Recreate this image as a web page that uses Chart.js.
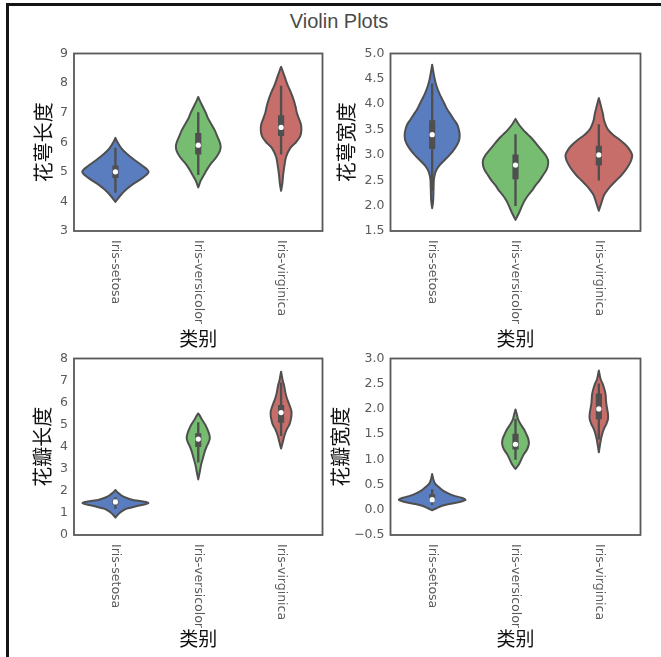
<!DOCTYPE html>
<html>
<head>
<meta charset="utf-8">
<title>Violin Plots</title>
<script src="https://cdn.jsdelivr.net/npm/chart.js@4.4.1/dist/chart.umd.min.js"></script>
<style>
  html, body { margin: 0; padding: 0; background: #fff; }
  #fig { position: relative; width: 661px; height: 657px; overflow: hidden; background: #fff; }
  #frame { position: absolute; left: 6px; top: 3px; width: 700px; height: 700px;
           border-top: 3px solid #141414; border-left: 3px solid #141414; box-sizing: border-box; }
  #suptitle { position: absolute; left: 0; width: 678px; top: 10px; text-align: center;
              font: 20px "Liberation Sans", Arial, sans-serif; color: #4a4a4a; }
  canvas { position: absolute; }
</style>
</head>
<body>
<div id="fig">
  <div id="frame"></div>
  <div id="suptitle">Violin Plots</div>
  <canvas id="sl" width="320" height="310" style="left:14px;top:40px"></canvas>
  <canvas id="sw" width="335" height="310" style="left:326px;top:40px"></canvas>
  <canvas id="pl" width="320" height="312" style="left:14px;top:345px"></canvas>
  <canvas id="pw" width="335" height="312" style="left:326px;top:345px"></canvas>
</div>
<script>
// ---- categories ----
const species = ['Iris-setosa', 'Iris-versicolor', 'Iris-virginica'];

// ---- 花萼长度 (sepal length) ----
const sepalLengthTicks = [3, 4, 5, 6, 7, 8, 9];
const sepalLengthMedian = [5.0, 5.9, 6.5];
const sepalLengthBox = [[4.8, 5.2], [5.6, 6.3], [6.225, 6.9]];
const sepalLengthWhisker = [[4.3, 5.8], [4.9, 7.0], [5.6, 7.9]];
// density outline: [value, half-width in category units]
const sepalLengthSetosa = [[3.98,0],[4.2,0.06],[4.4,0.13],[4.6,0.22],[4.8,0.33],[5.0,0.40],[5.2,0.33],[5.4,0.23],[5.6,0.14],[5.8,0.07],[6.0,0.025],[6.15,0]];
const sepalLengthVersicolor = [[4.47,0],[4.7,0.03],[4.9,0.07],[5.1,0.11],[5.3,0.16],[5.5,0.22],[5.7,0.26],[5.85,0.27],[6.0,0.26],[6.2,0.23],[6.4,0.2],[6.6,0.16],[6.8,0.12],[7.0,0.09],[7.2,0.055],[7.4,0.02],[7.53,0]];
const sepalLengthVirginica = [[4.36,0],[4.6,0.015],[4.9,0.025],[5.2,0.04],[5.5,0.06],[5.8,0.11],[6.0,0.18],[6.2,0.23],[6.4,0.245],[6.6,0.24],[6.8,0.215],[7.0,0.19],[7.2,0.175],[7.4,0.155],[7.6,0.13],[7.8,0.1],[8.0,0.07],[8.2,0.045],[8.4,0.02],[8.55,0]];

// ---- 花萼宽度 (sepal width) ----
const sepalWidthTicks = [1.5, 2.0, 2.5, 3.0, 3.5, 4.0, 4.5, 5.0];
const sepalWidthMedian = [3.4, 2.8, 3.0];
const sepalWidthBox = [[3.125, 3.675], [2.525, 3.0], [2.8, 3.175]];
const sepalWidthWhisker = [[2.3, 4.4], [2.0, 3.4], [2.5, 3.6]];
const sepalWidthSetosa = [[1.95,0],[2.1,0.012],[2.3,0.016],[2.5,0.02],[2.6,0.03],[2.7,0.05],[2.8,0.09],[2.9,0.15],[3.0,0.21],[3.1,0.26],[3.2,0.3],[3.3,0.325],[3.4,0.33],[3.5,0.32],[3.6,0.3],[3.7,0.26],[3.8,0.22],[3.9,0.18],[4.0,0.15],[4.1,0.12],[4.2,0.09],[4.3,0.065],[4.4,0.045],[4.5,0.03],[4.6,0.018],[4.78,0]];
const sepalWidthVersicolor = [[1.72,0],[1.85,0.04],[2.0,0.08],[2.1,0.11],[2.2,0.15],[2.3,0.2],[2.4,0.24],[2.5,0.29],[2.6,0.33],[2.7,0.37],[2.8,0.39],[2.9,0.39],[3.0,0.36],[3.1,0.31],[3.2,0.26],[3.3,0.21],[3.4,0.15],[3.5,0.09],[3.6,0.04],[3.71,0]];
const sepalWidthVirginica = [[1.9,0],[2.05,0.03],[2.2,0.06],[2.3,0.1],[2.4,0.15],[2.5,0.21],[2.6,0.27],[2.7,0.32],[2.8,0.36],[2.9,0.39],[3.0,0.4],[3.1,0.37],[3.2,0.32],[3.3,0.25],[3.4,0.17],[3.5,0.11],[3.6,0.08],[3.7,0.06],[3.8,0.05],[3.9,0.035],[4.0,0.02],[4.12,0]];

// ---- 花瓣长度 (petal length) ----
const petalLengthTicks = [0, 1, 2, 3, 4, 5, 6, 7, 8];
const petalLengthMedian = [1.5, 4.35, 5.55];
const petalLengthBox = [[1.4, 1.575], [4.0, 4.6], [5.1, 5.875]];
const petalLengthWhisker = [[1.2, 1.7], [3.3, 5.1], [4.5, 6.9]];
const petalLengthSetosa = [[0.79,0],[0.9,0.025],[1.0,0.05],[1.1,0.09],[1.2,0.14],[1.3,0.25],[1.4,0.37],[1.45,0.4],[1.5,0.37],[1.55,0.28],[1.6,0.2],[1.7,0.12],[1.8,0.07],[1.9,0.035],[2.04,0]];
const petalLengthVersicolor = [[2.52,0],[2.8,0.015],[3.0,0.025],[3.2,0.035],[3.4,0.05],[3.6,0.065],[3.8,0.08],[4.0,0.1],[4.2,0.125],[4.4,0.14],[4.6,0.13],[4.8,0.11],[5.0,0.085],[5.2,0.05],[5.4,0.02],[5.51,0]];
const petalLengthVirginica = [[3.92,0],[4.2,0.02],[4.5,0.04],[4.8,0.07],[5.0,0.1],[5.2,0.115],[5.4,0.125],[5.6,0.125],[5.8,0.11],[6.0,0.09],[6.2,0.07],[6.4,0.055],[6.6,0.045],[6.8,0.035],[7.0,0.02],[7.2,0.01],[7.4,0]];

// ---- 花瓣宽度 (petal width) ----
const petalWidthTicks = [-0.5, 0.0, 0.5, 1.0, 1.5, 2.0, 2.5, 3.0];
const petalWidthMedian = [0.2, 1.3, 2.0];
const petalWidthBox = [[0.2, 0.3], [1.2, 1.5], [1.8, 2.3]];
const petalWidthWhisker = [[0.1, 0.4], [1.0, 1.8], [1.4, 2.5]];
const petalWidthSetosa = [[-0.01,0],[0.03,0.05],[0.08,0.12],[0.12,0.22],[0.16,0.34],[0.2,0.4],[0.24,0.35],[0.28,0.26],[0.32,0.2],[0.38,0.13],[0.45,0.08],[0.52,0.035],[0.6,0.015],[0.71,0]];
const petalWidthVersicolor = [[0.81,0],[0.9,0.04],[1.0,0.07],[1.1,0.1],[1.2,0.14],[1.3,0.16],[1.4,0.155],[1.5,0.13],[1.6,0.1],[1.7,0.06],[1.8,0.03],[1.9,0.015],[1.99,0]];
const petalWidthVirginica = [[1.14,0],[1.3,0.015],[1.4,0.025],[1.5,0.04],[1.6,0.06],[1.7,0.09],[1.8,0.11],[1.9,0.11],[2.0,0.1],[2.1,0.09],[2.2,0.085],[2.3,0.08],[2.4,0.065],[2.5,0.045],[2.6,0.02],[2.76,0]];

// ---- styling ----
const CJK = '"Noto Sans CJK SC", sans-serif';
const TICK_FONT = '"DejaVu Sans", sans-serif';
const violinFill = ['#597dbe', '#76bd72', '#c76e6a'];
const inkGray = '#4f4f4f';

// Draws a Catmull-Rom curve through pts, starting from the current point pts[0]
function curveThrough(ctx, pts) {
  const n = pts.length;
  for (let i = 0; i < n - 1; i++) {
    const p0 = pts[Math.max(i - 1, 0)], p1 = pts[i], p2 = pts[i + 1], p3 = pts[Math.min(i + 2, n - 1)];
    ctx.bezierCurveTo(
      p1.x + (p2.x - p0.x) / 6, p1.y + (p2.y - p0.y) / 6,
      p2.x - (p3.x - p1.x) / 6, p2.y - (p3.y - p1.y) / 6,
      p2.x, p2.y);
  }
}

// Violin bodies under the datasets, plus the axes box and rotated category labels
function violinPlugin(shapes) {
  return {
    id: 'violins',
    beforeDatasetsDraw(chart) {
      const { ctx, scales: { x, y } } = chart;
      const unit = x.getPixelForValue(1) - x.getPixelForValue(0);
      shapes.forEach((shape, i) => {
        const cx = x.getPixelForValue(i);
        const right = shape.map(([v, w]) => ({ x: cx + w * unit, y: y.getPixelForValue(v) }));
        const left = shape.map(([v, w]) => ({ x: cx - w * unit, y: y.getPixelForValue(v) })).reverse();
        ctx.save();
        ctx.beginPath();
        ctx.moveTo(right[0].x, right[0].y);
        curveThrough(ctx, right);
        curveThrough(ctx, left);
        ctx.closePath();
        ctx.fillStyle = violinFill[i];
        ctx.fill();
        ctx.lineWidth = 2;
        ctx.lineJoin = 'round';
        ctx.strokeStyle = inkGray;
        ctx.stroke();
        ctx.restore();
      });
    },
    afterDraw(chart) {
      const { ctx, chartArea: a, scales: { x } } = chart;
      ctx.save();
      ctx.strokeStyle = '#585858';
      ctx.lineWidth = 1.8;
      ctx.strokeRect(a.left, a.top, a.right - a.left, a.bottom - a.top);
      ctx.font = '12.5px ' + TICK_FONT;
      ctx.fillStyle = '#5a5a5a';
      ctx.textAlign = 'left';
      ctx.textBaseline = 'middle';
      species.forEach((name, i) => {
        ctx.save();
        ctx.translate(x.getPixelForValue(i), a.bottom + 9);
        ctx.rotate(Math.PI / 2);
        ctx.fillText(name, 0, 0);
        ctx.restore();
      });
      ctx.restore();
    }
  };
}

function fmtTick(v, decimals) {
  return v.toFixed(decimals).replace('-', '\u2212');
}

function makePanel(p) {
  const ticks = p.ticks;
  new Chart(document.getElementById(p.id), {
    type: 'bar',
    data: {
      labels: species,
      datasets: [
        { type: 'line', label: '中位数', data: p.median, showLine: false,
          pointRadius: 2.6, pointHoverRadius: 2.6, pointBorderWidth: 0,
          pointBackgroundColor: '#ffffff', borderColor: '#ffffff' },
        { label: '四分位距', data: p.box, grouped: false, barThickness: 5.5,
          backgroundColor: inkGray, borderWidth: 0 },
        { label: '须', data: p.whisker, grouped: false, barThickness: 1.7,
          backgroundColor: inkGray, borderWidth: 0 }
      ]
    },
    options: {
      responsive: false,
      animation: false,
      devicePixelRatio: 1,
      layout: { padding: { top: p.padTop, right: p.padRight, left: 0, bottom: 0 } },
      plugins: { legend: { display: false }, tooltip: { enabled: false } },
      scales: {
        x: {
          grid: { display: false, drawTicks: false },
          border: { display: false },
          ticks: { display: false },
          title: { display: true, text: '类别', color: '#111',
                   font: { family: CJK, size: 19 }, padding: { top: 0, bottom: p.xTitlePad } },
          afterFit(s) { s.height = p.xAxisHeight; }
        },
        y: {
          min: ticks[0],
          max: ticks[ticks.length - 1],
          grid: { display: false, drawTicks: false },
          border: { display: false },
          ticks: { stepSize: ticks[1] - ticks[0], padding: 6, color: '#5a5a5a',
                   font: { family: TICK_FONT, size: 12.5 },
                   callback: v => fmtTick(v, p.decimals) },
          title: { display: true, text: p.title, color: '#111',
                   font: { family: CJK, size: 20 }, padding: { top: p.yTitlePad, bottom: 0 } },
          afterFit(s) { s.width = p.yAxisWidth; }
        }
      }
    },
    plugins: [violinPlugin(p.shapes)]
  });
}

makePanel({ id: 'sl', title: '花萼长度', ticks: sepalLengthTicks, decimals: 0,
  median: sepalLengthMedian, box: sepalLengthBox, whisker: sepalLengthWhisker,
  shapes: [sepalLengthSetosa, sepalLengthVersicolor, sepalLengthVirginica],
  yAxisWidth: 60, padTop: 13, padRight: 11.5, xAxisHeight: 119, yTitlePad: 17, xTitlePad: 0 });

makePanel({ id: 'sw', title: '花萼宽度', ticks: sepalWidthTicks, decimals: 1,
  median: sepalWidthMedian, box: sepalWidthBox, whisker: sepalWidthWhisker,
  shapes: [sepalWidthSetosa, sepalWidthVersicolor, sepalWidthVirginica],
  yAxisWidth: 64.5, padTop: 13, padRight: 20.5, xAxisHeight: 119, yTitlePad: 8, xTitlePad: 0 });

makePanel({ id: 'pl', title: '花瓣长度', ticks: petalLengthTicks, decimals: 0,
  median: petalLengthMedian, box: petalLengthBox, whisker: petalLengthWhisker,
  shapes: [petalLengthSetosa, petalLengthVersicolor, petalLengthVirginica],
  yAxisWidth: 60, padTop: 12, padRight: 11.5, xAxisHeight: 122, yTitlePad: 16, xTitlePad: 7 });

makePanel({ id: 'pw', title: '花瓣宽度', ticks: petalWidthTicks, decimals: 1,
  median: petalWidthMedian, box: petalWidthBox, whisker: petalWidthWhisker,
  shapes: [petalWidthSetosa, petalWidthVersicolor, petalWidthVirginica],
  yAxisWidth: 64.5, padTop: 12, padRight: 20.5, xAxisHeight: 122, yTitlePad: 2, xTitlePad: 7 });
</script>
</body>
</html>
